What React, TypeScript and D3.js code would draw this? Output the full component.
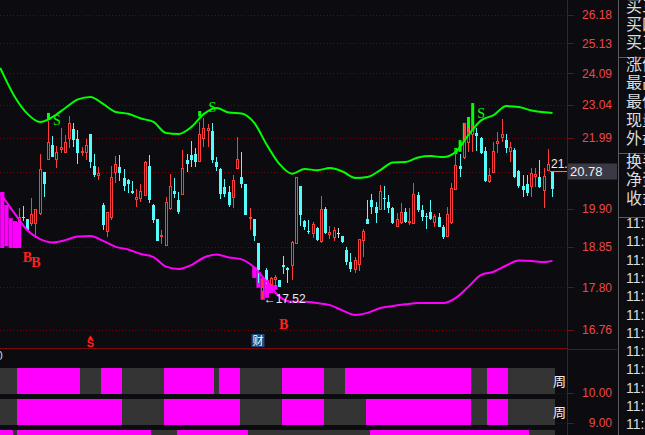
import { useEffect } from "react";
import * as d3 from "d3";

const W = 645;
const H = 435;
const BG = "#0c0c10";
const RED = "#ff3c3c";
const CYAN = "#54fcfc";
const GREEN = "#00ff00";
const MAGENTA = "#ff00ff";
const GRID = "#780000";
const FRAME = "#7a0a0a";
const AXIS_TEXT = "#ec4646";

// number of candle slots across the main panel, first visible candle slot
const SLOTS = 132;
const FIRST = 4;

// [open, high, low, close] for slots 4..131
const candles: number[][] = [
  [19.53, 19.92, 19.49, 19.67], [19.67, 19.97, 19.56, 19.63], [19.61, 19.62, 19.28, 19.30], [19.47, 20.20, 19.41, 19.74],
  [19.46, 19.89, 19.10, 19.88], [19.74, 21.49, 19.73, 21.03], [20.95, 20.96, 20.24, 20.60], [21.32, 22.53, 21.31, 21.86],
  [21.77, 22.05, 21.40, 21.41], [21.32, 21.73, 21.08, 21.56], [21.62, 22.30, 21.53, 21.71], [21.53, 22.07, 21.52, 21.86],
  [21.95, 22.69, 21.67, 22.46], [22.27, 22.46, 21.72, 21.91], [21.96, 22.24, 21.18, 21.52], [21.53, 21.72, 21.43, 21.59],
  [21.52, 21.96, 21.31, 21.77], [22.11, 22.12, 21.06, 21.26], [21.14, 21.49, 20.82, 20.87], [20.83, 21.11, 20.72, 20.92],
  [20.00, 20.05, 19.30, 19.44], [19.26, 19.81, 19.11, 19.80], [19.64, 21.13, 19.57, 20.80], [20.93, 21.44, 20.64, 21.19],
  [21.10, 21.46, 20.69, 20.93], [20.78, 21.04, 20.41, 20.55], [20.72, 20.75, 20.35, 20.61], [20.41, 20.69, 20.30, 20.34],
  [20.15, 20.47, 19.95, 20.22], [20.16, 20.59, 20.09, 20.40], [20.26, 21.29, 20.25, 21.25], [21.13, 21.46, 20.06, 20.14],
  [20.00, 20.03, 19.50, 19.58], [19.60, 19.61, 19.00, 19.01], [19.14, 19.30, 18.93, 19.17], [18.88, 20.23, 18.87, 20.08],
  [19.88, 20.90, 19.87, 20.54], [20.41, 20.77, 20.21, 20.32], [20.15, 20.37, 19.74, 19.81], [20.29, 21.62, 20.28, 21.06],
  [21.31, 21.50, 20.96, 21.18], [21.46, 21.90, 21.11, 21.31], [21.49, 21.69, 21.11, 21.26], [21.26, 22.50, 21.25, 22.11],
  [21.96, 22.61, 21.72, 22.29], [22.21, 22.43, 21.72, 22.30], [22.20, 22.46, 21.23, 21.30], [21.24, 21.40, 20.97, 21.11],
  [21.04, 21.07, 20.17, 20.31], [20.51, 20.75, 20.24, 20.31], [20.37, 20.54, 19.95, 20.00], [20.19, 20.87, 19.92, 20.72],
  [21.05, 22.02, 21.04, 21.33], [20.81, 21.55, 20.50, 20.60], [20.60, 20.61, 19.71, 19.72], [19.60, 19.91, 19.30, 19.66],
  [19.61, 19.62, 19.01, 19.14], [18.94, 18.95, 17.92, 18.24], [17.69, 17.99, 17.52, 17.81], [18.24, 18.29, 17.89, 17.99],
  [17.86, 18.07, 17.82, 18.04], [17.99, 18.11, 17.82, 18.07], [17.99, 18.00, 17.80, 17.82], [18.37, 18.61, 18.14, 18.33],
  [18.29, 18.33, 17.92, 18.24], [18.35, 19.00, 17.99, 18.99], [18.93, 20.82, 18.92, 20.80], [20.53, 20.54, 19.41, 19.72],
  [19.55, 19.58, 19.30, 19.39], [19.28, 19.58, 19.19, 19.24], [19.19, 19.53, 19.08, 19.47], [19.35, 19.39, 19.01, 19.03],
  [18.99, 20.26, 18.96, 19.89], [19.88, 19.95, 19.19, 19.21], [19.17, 19.41, 19.05, 19.26], [19.08, 19.38, 19.01, 19.30],
  [19.22, 19.35, 19.08, 19.22], [19.14, 19.15, 18.95, 18.97], [18.77, 18.85, 18.37, 18.46], [18.46, 18.68, 18.20, 18.26],
  [18.24, 18.59, 18.16, 18.50], [18.37, 19.06, 18.22, 19.05], [19.01, 19.32, 18.59, 19.28], [19.60, 20.14, 19.46, 19.47],
  [20.14, 20.31, 19.75, 19.95], [19.95, 20.09, 19.50, 19.78], [19.86, 20.57, 19.85, 20.41], [20.19, 20.53, 19.86, 20.16],
  [20.09, 20.28, 19.77, 19.91], [19.91, 19.93, 19.46, 19.49], [19.39, 19.77, 19.38, 19.60], [19.49, 20.05, 19.48, 19.81],
  [19.81, 19.92, 19.49, 19.53], [19.49, 19.91, 19.44, 19.55], [19.47, 20.62, 19.46, 20.31], [20.28, 20.37, 19.80, 19.86],
  [19.86, 20.00, 19.56, 19.67], [19.69, 19.77, 19.32, 19.65], [19.79, 20.14, 19.58, 19.61], [19.50, 19.75, 19.39, 19.69],
  [19.67, 19.77, 19.38, 19.39], [19.38, 19.44, 19.05, 19.12], [19.12, 19.94, 19.11, 19.75], [19.49, 20.62, 19.47, 20.48],
  [20.43, 21.64, 20.42, 21.16], [21.13, 21.49, 20.80, 21.05], [21.36, 22.45, 21.35, 21.92], [21.82, 22.29, 21.56, 22.18],
  [22.08, 22.40, 21.56, 22.29], [22.15, 22.29, 21.59, 22.06], [21.98, 22.03, 21.49, 21.52], [21.59, 21.72, 20.67, 20.70],
  [20.65, 21.06, 20.64, 20.87], [20.93, 21.87, 20.92, 21.59], [21.79, 22.18, 21.52, 21.89], [21.98, 22.58, 21.87, 22.10],
  [21.92, 22.10, 21.52, 21.67], [21.56, 21.87, 21.26, 21.70], [21.62, 21.67, 20.77, 20.82], [20.98, 21.01, 20.48, 20.54],
  [20.54, 20.87, 20.24, 20.43], [20.59, 20.87, 20.26, 20.33], [20.52, 21.06, 20.24, 20.92], [20.80, 21.06, 20.52, 20.90],
  [20.80, 21.31, 20.50, 20.52], [20.41, 21.06, 19.91, 20.83], [20.99, 21.64, 20.98, 21.19], [20.96, 20.97, 20.24, 20.45],
];

// band samples every third slot (first sample sits on the left edge)
const bandIdx = [-0.5, 3, 6, 9, 12, 15, 18, 21, 24, 27, 30, 33, 36, 39, 42, 45, 48, 51, 54, 57, 60, 63, 66, 69, 72,
  75, 78, 81, 84, 87, 90, 93, 96, 99, 102, 105, 108, 111, 114, 117, 120, 123, 126, 129, 131];
const upperBand = [24.28, 23.30, 22.75, 22.49, 22.65, 22.94, 23.22, 23.30, 23.07, 22.81, 22.75, 22.60, 22.49, 22.14,
  22.11, 22.33, 22.75, 22.94, 22.79, 22.76, 22.46, 21.77, 21.19, 20.90, 21.04, 21.01, 21.07, 20.97, 20.78, 20.81,
  21.01, 21.24, 21.25, 21.39, 21.43, 21.40, 21.56, 22.08, 22.54, 22.71, 23.00, 22.97, 22.86, 22.80, 22.78];
const lowerBand = [20.34, 19.75, 19.29, 19.06, 18.97, 19.03, 19.13, 19.14, 19.01, 18.85, 18.78, 18.66, 18.58, 18.33,
  18.27, 18.37, 18.57, 18.65, 18.57, 18.52, 18.31, 17.94, 17.57, 17.44, 17.44, 17.41, 17.36, 17.23, 17.12, 17.17,
  17.29, 17.34, 17.38, 17.41, 17.41, 17.41, 17.54, 17.82, 18.12, 18.20, 18.36, 18.49, 18.48, 18.45, 18.48];

// [slot, top, bottom] signal sticks
const lowSticks = [[0, 20.37, 18.82], [1, 20.0, 18.87], [2, 19.63, 18.82], [3, 19.55, 18.82], [4, 19.52, 18.82],
  [60, 18.32, 18.04], [61, 18.19, 17.79], [62, 18.04, 17.49], [63, 17.99, 17.54], [64, 17.91, 17.66], [65, 17.86, 17.74]];
const highSticks = [[11, 22.78, 22.56], [47, 22.84, 22.66], [108, 21.68, 21.49], [109, 21.92, 21.56],
  [110, 22.46, 21.77], [111, 22.65, 21.99], [112, 23.10, 22.14]];

// [slot, price]
const sellMarks = [[13, 22.55], [50, 22.96], [114, 22.79]];
const buyMarks = [[6, 18.58], [8, 18.45], [67, 16.91]];

const priceTicks = [26.18, 25.13, 24.09, 23.04, 21.99, 20.94, 19.9, 18.85, 17.8, 16.76];
const lowPrice = 17.52;
const lowSlot = 62;
const lastPrice = 20.78;
const hoverText = "21.10";

// lower panel state rows: [fromSlot, toSlot)
const stateRows = [
  [[4, 19], [24, 29], [39, 51], [52, 57], [67, 77], [82, 112], [116, 121]],
  [[4, 29], [39, 57], [67, 77], [87, 112], [116, 121]],
  [[0, 3], [4, 36], [42, 59], [88, 126]],
];
const rowLabels = ["周", "周"];
const subTicks = [10, 9];

const quoteTop = ["买三", "买四", "买五"];
const quoteMid = ["涨停", "最高", "最低", "现量", "外盘"];
const quoteLow = ["换手", "净资", "收益"];
const tradeTimes = ["11:18", "11:19", "11:19", "11:20", "11:21", "11:22", "11:23", "11:24", "11:25", "11:26", "11:27", "11:28", "11:29"];

export default function App() {
  useEffect(() => {
    document.body.style.margin = "0";
    document.body.style.background = BG;
  }, []);

  const x = d3.scaleLinear().domain([0, SLOTS]).range([0.2, 554.6]);
  const cx = (i: number) => x(i + 0.5);
  const y = d3.scaleLog().domain([16.76, 26.18]).range([330, 14.5]);
  const ySub = d3.scaleLinear().domain([9, 10]).range([423, 392.7]);

  const band = d3.line<number>()
    .x((_, k) => cx(bandIdx[k]))
    .y((v) => y(v))
    .curve(d3.curveMonotoneX);

  const markerY = Math.round(y(lastPrice) - 7) + 0.5;
  const font = "'Liberation Sans', Arial, sans-serif";
  const cjk = "'Noto Sans CJK SC', sans-serif";

  return (
    <svg width={W} height={H} style={{ position: "fixed", left: 0, top: 0, display: "block" }}>
      <defs>
        <clipPath id="main">
          <rect x={0} y={0} width={567} height={348} />
        </clipPath>
      </defs>
      <rect width={W} height={H} fill={BG} />

      {/* grid */}
      {priceTicks.map((t) => (
        <line key={t} x1={0} x2={567} y1={Math.round(y(t)) + 0.5} y2={Math.round(y(t)) + 0.5}
          stroke={GRID} strokeDasharray="1,2.3" shapeRendering="crispEdges" />
      ))}

      <g clipPath="url(#main)">
        {lowSticks.map(([i, t, b]) => (
          <rect key={"l" + i} x={x(i)} width={x(i + 1) - x(i)} y={y(t)} height={y(b) - y(t)} fill={MAGENTA} />
        ))}
        {highSticks.map(([i, t, b]) => (
          <rect key={"h" + i} x={cx(i) - 1.5} width={3} y={y(t)} height={y(b) - y(t)} fill={GREEN} />
        ))}

        {candles.map((d, k) => {
          const i = k + FIRST;
          const [o, h, l, c] = d;
          const left = Math.round(cx(i) - 1.5);
          const mid = left + 1.5;
          const top = Math.round(y(Math.max(o, c)));
          const bot = Math.round(y(Math.min(o, c)));
          const yh = Math.round(y(h));
          const yl = Math.round(y(l));
          if (c > o) {
            return (
              <g key={i} stroke={RED} shapeRendering="crispEdges">
                <line x1={mid} x2={mid} y1={yh} y2={top} />
                <line x1={mid} x2={mid} y1={bot} y2={yl} />
                <rect x={left + 0.5} y={top + 0.5} width={2} height={Math.max(1, bot - top - 1)} fill={BG} />
              </g>
            );
          }
          if (c < o) {
            return (
              <g key={i} shapeRendering="crispEdges">
                <line x1={mid} x2={mid} y1={yh} y2={yl} stroke={CYAN} />
                <rect x={left} y={top} width={3} height={Math.max(1, bot - top)} fill={CYAN} />
              </g>
            );
          }
          return (
            <g key={i} stroke="#e0e0e0" shapeRendering="crispEdges">
              <line x1={mid} x2={mid} y1={yh} y2={yl} />
              <line x1={left} x2={left + 3} y1={top + 0.5} y2={top + 0.5} />
            </g>
          );
        })}

        <path d={band(upperBand) ?? ""} fill="none" stroke={GREEN} strokeWidth={2} />
        <path d={band(lowerBand) ?? ""} fill="none" stroke={MAGENTA} strokeWidth={2} />

        {sellMarks.map(([i, p]) => (
          <text key={"s" + i} x={cx(i)} y={y(p)} dy="0.36em" textAnchor="middle" fill={GREEN}
            fontFamily="'Liberation Serif', serif" fontSize={14}>S</text>
        ))}
        {buyMarks.map(([i, p]) => (
          <text key={"b" + i} x={cx(i)} y={y(p)} dy="0.36em" textAnchor="middle" fill="#ff2020"
            fontFamily="'Liberation Serif', serif" fontWeight="bold" fontSize={14}>B</text>
        ))}

        <text x={cx(lowSlot) + 1} y={y(lowPrice)} dy="0.36em" fill="#e8e8e8" fontFamily={font} fontSize={12}>
          ←{lowPrice.toFixed(2)}
        </text>

        <line x1={550} x2={567} y1={markerY} y2={markerY} stroke="#9a9a9a" />
        <text x={551} y={markerY - 4} fill="#f0f0f0" fontFamily={font} fontSize={12}>{hoverText}</text>

        {/* bottom event markers */}
        <path d={`M${cx(21) - 2.5},${339} L${cx(21)},${335.5} L${cx(21) + 2.5},${339} Z`} fill="#ff2020" />
        <text x={cx(21)} y={347} textAnchor="middle" fill="#ff2020" fontFamily={font} fontWeight="bold" fontSize={11}>S</text>
        <rect x={cx(61) - 7} y={334} width={13} height={13} fill="#1b4c7e" />
        <text x={cx(61) - 0.5} y={345} textAnchor="middle" fill="#ffffff" fontFamily={cjk} fontSize={11}>财</text>
      </g>

      {/* frame */}
      <line x1={0} x2={567} y1={348.5} y2={348.5} stroke={FRAME} />
      <line x1={567.5} x2={567.5} y1={0} y2={H} stroke={FRAME} />
      <line x1={568} x2={617} y1={349.5} y2={349.5} stroke={FRAME} />

      {/* price axis */}
      {priceTicks.map((t) => (
        <g key={"t" + t}>
          <line x1={568} x2={574} y1={Math.round(y(t)) + 0.5} y2={Math.round(y(t)) + 0.5} stroke={FRAME} />
          <text x={612} y={y(t)} dy="0.36em" textAnchor="end" fill={AXIS_TEXT} fontFamily={font} fontSize={12}>
            {t.toFixed(2)}
          </text>
        </g>
      ))}
      <rect x={568} y={markerY - 8} width={49} height={16} fill="#3a3a44" />
      <text x={570} y={markerY} dy="0.36em" fill="#f0f0f0" fontFamily={font} fontSize={13}>{lastPrice.toFixed(2)}</text>

      {/* lower panel */}
      <text x={-4} y={360} fill="#d0d0d0" fontFamily={font} fontSize={12}>0</text>
      {subTicks.map((t) => (
        <g key={"st" + t}>
          <line x1={0} x2={567} y1={Math.round(ySub(t)) + 0.5} y2={Math.round(ySub(t)) + 0.5} stroke={GRID} strokeDasharray="1,2.3" />
          <line x1={568} x2={574} y1={Math.round(ySub(t)) + 0.5} y2={Math.round(ySub(t)) + 0.5} stroke={FRAME} />
          <text x={612} y={ySub(t)} dy="0.36em" textAnchor="end" fill={AXIS_TEXT} fontFamily={font} fontSize={12}>
            {t.toFixed(2)}
          </text>
        </g>
      ))}
      {stateRows.map((segs, r) => {
        const top = 368 + r * 31;
        return (
          <g key={"row" + r} shapeRendering="crispEdges">
            <rect x={0} y={top} width={x(SLOTS)} height={26} fill="#343434" />
            {segs.map(([a, b]) => (
              <rect key={a} x={x(a)} y={top} width={x(b) - x(a)} height={26} fill={MAGENTA} />
            ))}
            {rowLabels[r] && (
              <text x={553} y={top + 13} dy="0.36em" fill="#f0f0f0" fontFamily={cjk} fontSize={13}>{rowLabels[r]}</text>
            )}
          </g>
        );
      })}

      {/* quote panel */}
      <line x1={618.5} x2={618.5} y1={0} y2={H} stroke="#5a5a5a" />
      {[57, 153, 217].map((s) => (
        <line key={s} x1={618} x2={W} y1={s + 0.5} y2={s + 0.5} stroke="#5a5a5a" />
      ))}
      {quoteTop.map((t, k) => (
        <text key={t} x={626} y={6 + k * 18.3} dy="0.36em" fill="#dcdcdc" fontFamily={cjk} fontSize={16}>{t}</text>
      ))}
      {quoteMid.map((t, k) => (
        <text key={t} x={626} y={64 + k * 18.6} dy="0.36em" fill="#dcdcdc" fontFamily={cjk} fontSize={16}>{t}</text>
      ))}
      {quoteLow.map((t, k) => (
        <text key={t} x={626} y={161 + k * 18.5} dy="0.36em" fill="#dcdcdc" fontFamily={cjk} fontSize={16}>{t}</text>
      ))}
      {tradeTimes.map((t, k) => (
        <text key={k} x={626} y={223 + k * 18.3} dy="0.36em" fill="#dcdcdc" fontFamily={font} fontSize={14}>{t}</text>
      ))}
    </svg>
  );
}
